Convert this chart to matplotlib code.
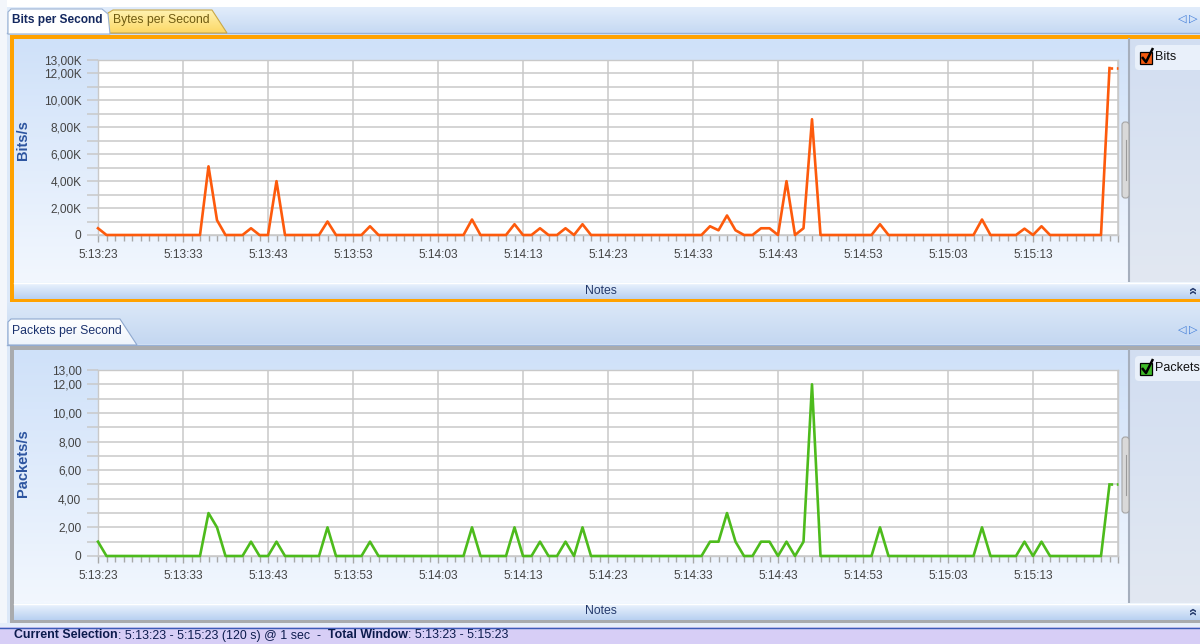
import numpy as np
import matplotlib
matplotlib.use("Agg")
import matplotlib.pyplot as plt
from matplotlib.patches import Rectangle, FancyBboxPatch, Polygon
from matplotlib.colors import to_rgb
from matplotlib.lines import Line2D

plt.rcParams['font.family'] = ['Liberation Sans', 'DejaVu Sans']

# ---------------- data ----------------
seconds = np.arange(121)  # 5:13:23 .. 5:15:23 in 1 s steps
bits_per_second = [
    500, 0, 0, 0, 0, 0, 0, 0, 0, 0,
    0, 0, 0, 5100, 1100, 0, 0, 0, 500, 0,
    0, 4000, 0, 0, 0, 0, 0, 1000, 0, 0,
    0, 0, 650, 0, 0, 0, 0, 0, 0, 0,
    0, 0, 0, 0, 1150, 0, 0, 0, 0, 800,
    0, 0, 500, 0, 0, 500, 0, 800, 0, 0,
    0, 0, 0, 0, 0, 0, 0, 0, 0, 0,
    0, 0, 650, 350, 1450, 350, 0, 0, 500, 500,
    0, 4000, 0, 500, 8600, 0, 0, 0, 0, 0,
    0, 0, 800, 0, 0, 0, 0, 0, 0, 0,
    0, 0, 0, 0, 1150, 0, 0, 0, 0, 470,
    0, 650, 0, 0, 0, 0, 0, 0, 0, 12400,
    12400,
]
packets_per_second = [
    1, 0, 0, 0, 0, 0, 0, 0, 0, 0,
    0, 0, 0, 3, 2, 0, 0, 0, 1, 0,
    0, 1, 0, 0, 0, 0, 0, 2, 0, 0,
    0, 0, 1, 0, 0, 0, 0, 0, 0, 0,
    0, 0, 0, 0, 2, 0, 0, 0, 0, 2,
    0, 0, 1, 0, 0, 1, 0, 2, 0, 0,
    0, 0, 0, 0, 0, 0, 0, 0, 0, 0,
    0, 0, 1, 1, 3, 1, 0, 0, 1, 1,
    0, 1, 0, 1, 12, 0, 0, 0, 0, 0,
    0, 0, 2, 0, 0, 0, 0, 0, 0, 0,
    0, 0, 0, 0, 2, 0, 0, 0, 0, 1,
    0, 1, 0, 0, 0, 0, 0, 0, 0, 5,
    5,
]
time_tick_positions = [0, 10, 20, 30, 40, 50, 60, 70, 80, 90, 100, 110, 120]
time_labels = ["5:13:23", "5:13:33", "5:13:43", "5:13:53", "5:14:03", "5:14:13",
               "5:14:23", "5:14:33", "5:14:43", "5:14:53", "5:15:03", "5:15:13", ""]
bits_ticks = [0, 1000, 2000, 3000, 4000, 5000, 6000, 7000, 8000, 9000, 10000, 11000, 12000, 13000]
bits_tick_labels = ["0", "", "2,00K", "", "4,00K", "", "6,00K", "", "8,00K", "", "10,00K", "", "12,00K", "13,00K"]
packet_ticks = [0, 1, 2, 3, 4, 5, 6, 7, 8, 9, 10, 11, 12, 13]
packet_tick_labels = ["0", "", "2,00", "", "4,00", "", "6,00", "", "8,00", "", "10,00", "", "12,00", "13,00"]

W, H = 1200, 644
fig = plt.figure(figsize=(W / 100, H / 100), dpi=100)
fig.patch.set_facecolor('#dce8f8')

bg = fig.add_axes([0, 0, 1, 1])
bg.axis('off')


def grad(x0, y0, x1, y1, c0, c1, z=1, clip=None):
    a = np.linspace(0, 1, 64)[:, None, None]
    c0 = np.array(to_rgb(c0))[None, None, :]
    c1 = np.array(to_rgb(c1))[None, None, :]
    img = c0 * (1 - a) + c1 * a
    img = np.repeat(img, 2, axis=1)
    im = bg.imshow(img, extent=(x0, x1, y1, y0), aspect='auto', zorder=z,
                   interpolation='bilinear')
    if clip is not None:
        im.set_clip_path(clip)
    return im


def rect(x0, y0, x1, y1, fc, z=1, ec='none', lw=0):
    bg.add_patch(Rectangle((x0, y0), x1 - x0, y1 - y0, facecolor=fc,
                           edgecolor=ec, lw=lw, zorder=z))


# window edges
rect(0, 0, W, 7, '#ffffff', z=1)
rect(0, 0, 7, H, '#f3f6fb', z=1)

# ---------- top tab strip ----------
grad(7, 7, W, 33, '#e2edfb', '#c6d9f3', z=1)
bg.plot([7, W], [33, 33], color='#98b1d6', lw=1, zorder=2)
yel = Polygon([(104, 33), (108, 13), (113, 10), (212, 10), (227, 33)], closed=True,
              facecolor='none', edgecolor='#c9a848', lw=0.8, zorder=4)
bg.add_patch(yel)
grad(104, 10, 227, 33, '#fff2b0', '#fcd866', z=3, clip=yel)
wt = Polygon([(8, 34), (8, 12), (11, 9), (102, 9), (108, 14), (110, 34)], closed=True,
             facecolor='#ffffff', edgecolor='#9ab1d2', lw=0.8, zorder=5)
bg.add_patch(wt)
bg.text(12, 20, 'Bits per Second', fontsize=8.6, fontweight='bold', color='#14285f',
        va='center', ha='left', zorder=6)
bg.text(113, 20, 'Bytes per Second', fontsize=8.8, color='#6e5a10',
        va='center', ha='left', zorder=6)
bg.text(1182, 19, '\u25c1', fontsize=8, color='#3d7ad8', ha='center', va='center', zorder=6,
        family='DejaVu Sans')
bg.text(1193, 19, '\u25b7', fontsize=8, color='#3d7ad8', ha='center', va='center', zorder=6,
        family='DejaVu Sans')

# ---------- bottom tab strip ----------
grad(7, 303, W, 344, '#dbe8f8', '#c4d7f1', z=1)
bg.plot([7, W], [344.5, 344.5], color='#98b1d6', lw=1, zorder=2)
pt = Polygon([(8, 345), (8, 322), (11, 319), (120, 319), (137, 345)], closed=True,
             facecolor='none', edgecolor='#8ea8cf', lw=0.8, zorder=5)
bg.add_patch(pt)
grad(8, 319, 137, 345, '#ffffff', '#eef4fc', z=4, clip=pt)
bg.text(12, 331, 'Packets per Second', fontsize=8.8, color='#1b326e',
        va='center', ha='left', zorder=6)
bg.text(1182, 330, '\u25c1', fontsize=8, color='#3d7ad8', ha='center', va='center', zorder=6,
        family='DejaVu Sans')
bg.text(1193, 330, '\u25b7', fontsize=8, color='#3d7ad8', ha='center', va='center', zorder=6,
        family='DejaVu Sans')


def panel(y_top, y_bot, frame_color, legend_label, check_color, thumb_y):
    # frame
    rect(10, y_top, W + 5, y_bot, frame_color, z=2)
    # interior gradient
    notes_top = y_bot - 20
    grad(14, y_top + 4, W + 5, notes_top, '#cfe1f9', '#f2f7fe', z=3)
    # legend side panel
    grad(1129, y_top + 4, W + 5, notes_top, '#d2def1', '#e2e8f2', z=4)
    bg.plot([1128.5, 1128.5], [y_top + 4, notes_top], color='#a6afbd', lw=1.5, zorder=5)
    # legend item
    bg.add_patch(FancyBboxPatch((1135, y_top + 10), 75, 25,
                                boxstyle='round,pad=0,rounding_size=4',
                                facecolor='#e9f0fa', edgecolor='none', zorder=6))
    cy = y_top + 22
    bg.add_patch(Rectangle((1140, cy - 5), 12, 12, facecolor=check_color,
                           edgecolor='black', lw=0.9, zorder=7))
    bg.add_line(Line2D([1142, 1146, 1153], [cy, cy + 5, cy - 9], color='black', lw=1.8,
                       zorder=8, solid_capstyle='butt'))
    bg.text(1155, cy, legend_label, fontsize=9, color='#111111', va='center', ha='left', zorder=8)
    # scroll thumb
    bg.add_patch(FancyBboxPatch((1122, thumb_y), 7, 76,
                                boxstyle='round,pad=0,rounding_size=3',
                                facecolor='#d9d9d9', edgecolor='#a5a5a5', lw=0.8, zorder=6))
    bg.plot([1125.5, 1125.5], [thumb_y + 18, thumb_y + 58], color='#9a9a9a', lw=0.8, zorder=7)
    # notes bar
    grad(14, notes_top, W + 5, y_bot - 3, '#eef5fe', '#b8d0f1', z=5)
    bg.plot([14, W], [notes_top + 0.5, notes_top + 0.5], color='#ffffff', lw=1, zorder=6)
    bg.text(601, (notes_top + y_bot - 3) / 2, 'Notes', fontsize=8.8, color='#23396b',
            ha='center', va='center', zorder=7)
    bg.text(1193, (notes_top + y_bot - 3) / 2, '\u00bb', fontsize=10, fontweight='bold',
            color='#23396b', rotation=90, ha='center', va='center', zorder=7)


panel(35, 302, '#ffa200', 'Bits', '#f45a0f', 122)
panel(346, 623, '#a9abae', 'Packets', '#3fbb2a', 437)

# ---------- status bar ----------
rect(0, 623, W, 627, '#e6eefa', z=2)
rect(0, 627, W, H, '#d7cef6', z=2)
bg.plot([0, W], [627.5, 627.5], color='#3c5cb8', lw=1, zorder=3)

pieces = [("Current Selection", 'bold'), (": 5:13:23 - 5:15:23 (120 s) @ 1 sec  -  ", 'normal'),
          ("Total Window", 'bold'), (": 5:13:23 - 5:15:23", 'normal')]
prev = bg.text(14, 641.5, pieces[0][0], fontsize=8.9, fontweight=pieces[0][1],
               color='#0c1b4d', ha='left', va='bottom', zorder=4)
for txt, wgt in pieces[1:]:
    prev = bg.annotate(txt, xy=(1, 0), xycoords=prev, ha='left', va='bottom',
                       fontsize=8.9, fontweight=wgt, color='#0c1b4d', zorder=4)

bg.set_xlim(0, W)
bg.set_ylim(H, 0)


# ---------- charts ----------
def chart(y_top_px, y_bot_px, values, ymax, ticks, labels, color, ylabel, label_y):
    ax = fig.add_axes([98 / W, 1 - y_bot_px / H, 1020 / W, (y_bot_px - y_top_px) / H])
    ax.set_facecolor('white')
    ax.plot(seconds[:120], values[:120], color=color, lw=1.9, clip_on=False, zorder=4)
    ax.plot(seconds[119:], values[119:], color=color, lw=1.9, ls=(0, (1, 1.4)),
            clip_on=False, zorder=4)
    ax.set_xlim(0, 120)
    ax.set_ylim(0, ymax)
    ax.set_xticks(time_tick_positions)
    ax.set_xticklabels(time_labels)
    ax.set_xticks(seconds, minor=True)
    ax.set_yticks(ticks)
    ax.set_yticklabels(labels)
    ax.grid(which='major', color='#c9c9c9', lw=1.1, zorder=1)
    for s in ax.spines.values():
        s.set_color('#c9c9c9')
        s.set_linewidth(1.0)
    ax.tick_params(axis='x', which='major', direction='out', length=5, width=1,
                   color='#a8a8a8', labelsize=8.6, labelcolor='#444444', pad=5)
    ax.tick_params(axis='x', which='minor', direction='out', length=4, width=1,
                   color='#a8a8a8')
    ax.tick_params(axis='y', which='major', direction='out', length=8, width=1.1,
                   color='#c9c9c9', labelsize=8.6, labelcolor='#444444', pad=4)
    ax.set_ylabel(ylabel, fontsize=10.5, fontweight='bold', color='#2d55a0')
    ax.yaxis.set_label_coords(-0.067, label_y)
    return ax


chart(60, 235, bits_per_second, 13000, bits_ticks, bits_tick_labels, '#fd5a0c', 'Bits/s', 0.54)
chart(370, 556, packets_per_second, 13, packet_ticks, packet_tick_labels, '#4dbb1c', 'Packets/s', 0.5)

fig.savefig('out.png', dpi=100, facecolor=fig.get_facecolor())
